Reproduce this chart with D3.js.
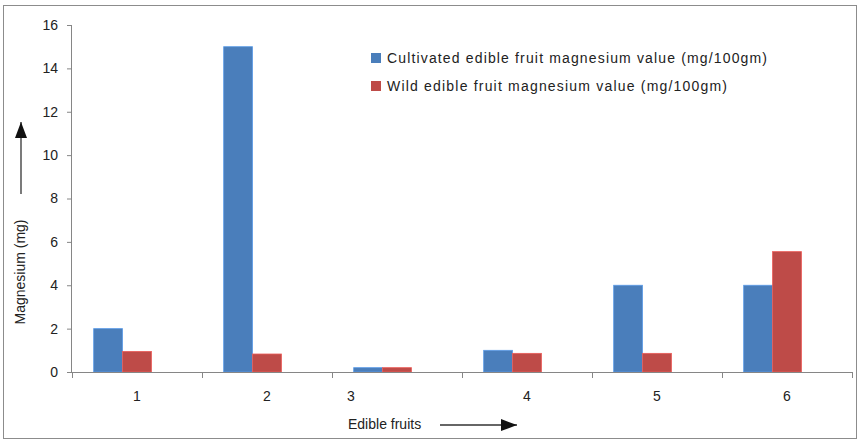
<!DOCTYPE html>
<html>
<head>
<meta charset="utf-8">
<script src="https://cdn.jsdelivr.net/npm/d3@7"></script>
<style>
  html, body { margin: 0; padding: 0; background: #fff; }
  svg { display: block; }
  text { font-family: "Liberation Sans", Arial, sans-serif; fill: #222; }
</style>
</head>
<body>
<svg id="chart" width="861" height="441"></svg>
<script>
// Magnesium content per edible fruit (mg/100gm)
const categories = ["1", "2", "3", "4", "5", "6"];
const cultivated = [2.0, 15.0, 0.2, 1.0, 4.0, 4.0];
const wild = [0.95, 0.83, 0.2, 0.86, 0.86, 5.55];
const seriesNames = [
  "Cultivated edible fruit magnesium value (mg/100gm)",
  "Wild edible fruit magnesium value (mg/100gm)"
];
const seriesColors = ["#4A7EBB", "#BE4B48"];
const yTicks = [0, 2, 4, 6, 8, 10, 12, 14, 16];

const svg = d3.select("#chart");
const W = 861, H = 441;
const margin = { left: 72, right: 9, top: 25, bottom: 69 };

// outer frame
svg.append("rect")
  .attr("x", 3.5).attr("y", 5.5)
  .attr("width", W - 8).attr("height", H - 8)
  .attr("fill", "#fff").attr("stroke", "#8c8c8c").attr("stroke-width", 1);

const x0 = d3.scaleBand()
  .domain(categories)
  .range([margin.left, W - margin.right])
  .padding(0);

const keys = ["cultivated", "wild"];
const x1 = d3.scaleBand()
  .domain(keys)
  .range([0, x0.bandwidth()])
  .paddingInner(0)
  .paddingOuter(1.25)
  .align(0.3);

const y = d3.scaleLinear()
  .domain([0, 16])
  .range([H - margin.bottom, margin.top]);

const rows = categories.map((c, i) => ({ cat: c, cultivated: cultivated[i], wild: wild[i] }));

// bars
const groups = svg.append("g").selectAll("g")
  .data(rows).join("g")
  .attr("transform", d => `translate(${x0(d.cat)},0)`);

groups.selectAll("rect")
  .data(d => keys.map((k, j) => ({ key: k, value: d[k], color: seriesColors[j] })))
  .join("rect")
  .attr("x", d => x1(d.key))
  .attr("width", x1.bandwidth())
  .attr("y", d => y(d.value))
  .attr("height", d => y(0) - y(d.value))
  .attr("fill", d => d.color)
  .attr("stroke", d => d3.color(d.color).brighter(0.6))
  .attr("stroke-width", 0.8);

// y axis
const yAxis = svg.append("g")
  .attr("transform", `translate(${margin.left},0)`)
  .call(d3.axisLeft(y).tickValues(yTicks).tickSize(5).tickPadding(9).tickFormat(d3.format("d")));
yAxis.selectAll("path, line").attr("stroke", "#868686");
yAxis.select(".domain").attr("d", `M-0.5,${y(16)}V${y(0)}`);
yAxis.selectAll("text").style("font-size", "14px").attr("fill", "#222");

// x axis with ticks on category boundaries
const xAxisG = svg.append("g").attr("transform", `translate(0,${y(0)})`);
xAxisG.append("line")
  .attr("x1", margin.left).attr("x2", W - margin.right)
  .attr("y1", 0.5).attr("y2", 0.5)
  .attr("stroke", "#868686");
const bounds = categories.map(c => x0(c)).concat([x0.range()[1]]);
xAxisG.selectAll("line.tick").data(bounds).join("line")
  .attr("class", "tick")
  .attr("x1", d => Math.round(d) + 0.5).attr("x2", d => Math.round(d) + 0.5)
  .attr("y1", 0).attr("y2", 6)
  .attr("stroke", "#868686");
xAxisG.selectAll("text").data(categories).join("text")
  .attr("x", d => x0(d) + x0.bandwidth() / 2 + (d === "3" ? -46 : 0))
  .attr("y", 29)
  .attr("text-anchor", "middle")
  .style("font-size", "14px")
  .text(d => d);

// axis titles with arrows
const defs = svg.append("defs");
defs.append("marker")
  .attr("id", "arrow")
  .attr("viewBox", "0 0 16 12")
  .attr("refX", 16).attr("refY", 6)
  .attr("markerWidth", 16).attr("markerHeight", 12)
  .attr("markerUnits", "userSpaceOnUse")
  .attr("orient", "auto")
  .append("path").attr("d", "M0,0L16,6L0,12Z").attr("fill", "#111");

svg.append("text")
  .attr("transform", "translate(25,272) rotate(-90)")
  .attr("text-anchor", "middle")
  .style("font-size", "14px")
  .text("Magnesium (mg)");
svg.append("line")
  .attr("x1", 21).attr("x2", 21)
  .attr("y1", 194).attr("y2", 122)
  .attr("stroke", "#333").attr("stroke-width", 1.3)
  .attr("marker-end", "url(#arrow)");

svg.append("text")
  .attr("x", 348).attr("y", 429)
  .style("font-size", "14px")
  .text("Edible fruits");
svg.append("line")
  .attr("x1", 440).attr("x2", 517)
  .attr("y1", 425).attr("y2", 425)
  .attr("stroke", "#333").attr("stroke-width", 1.3)
  .attr("marker-end", "url(#arrow)");

// legend
const legendWidths = [380, 340];
const legend = svg.append("g").attr("transform", "translate(371,53)");
const li = legend.selectAll("g").data(seriesNames).join("g")
  .attr("transform", (d, i) => `translate(0,${i * 28})`);
li.append("rect").attr("width", 10).attr("height", 10)
  .attr("fill", (d, i) => seriesColors[i]);
li.append("text")
  .attr("x", 16).attr("y", 10)
  .attr("textLength", (d, i) => legendWidths[i])
  .attr("lengthAdjust", "spacing")
  .style("font-size", "14px")
  .text(d => d);
</script>
</body>
</html>
